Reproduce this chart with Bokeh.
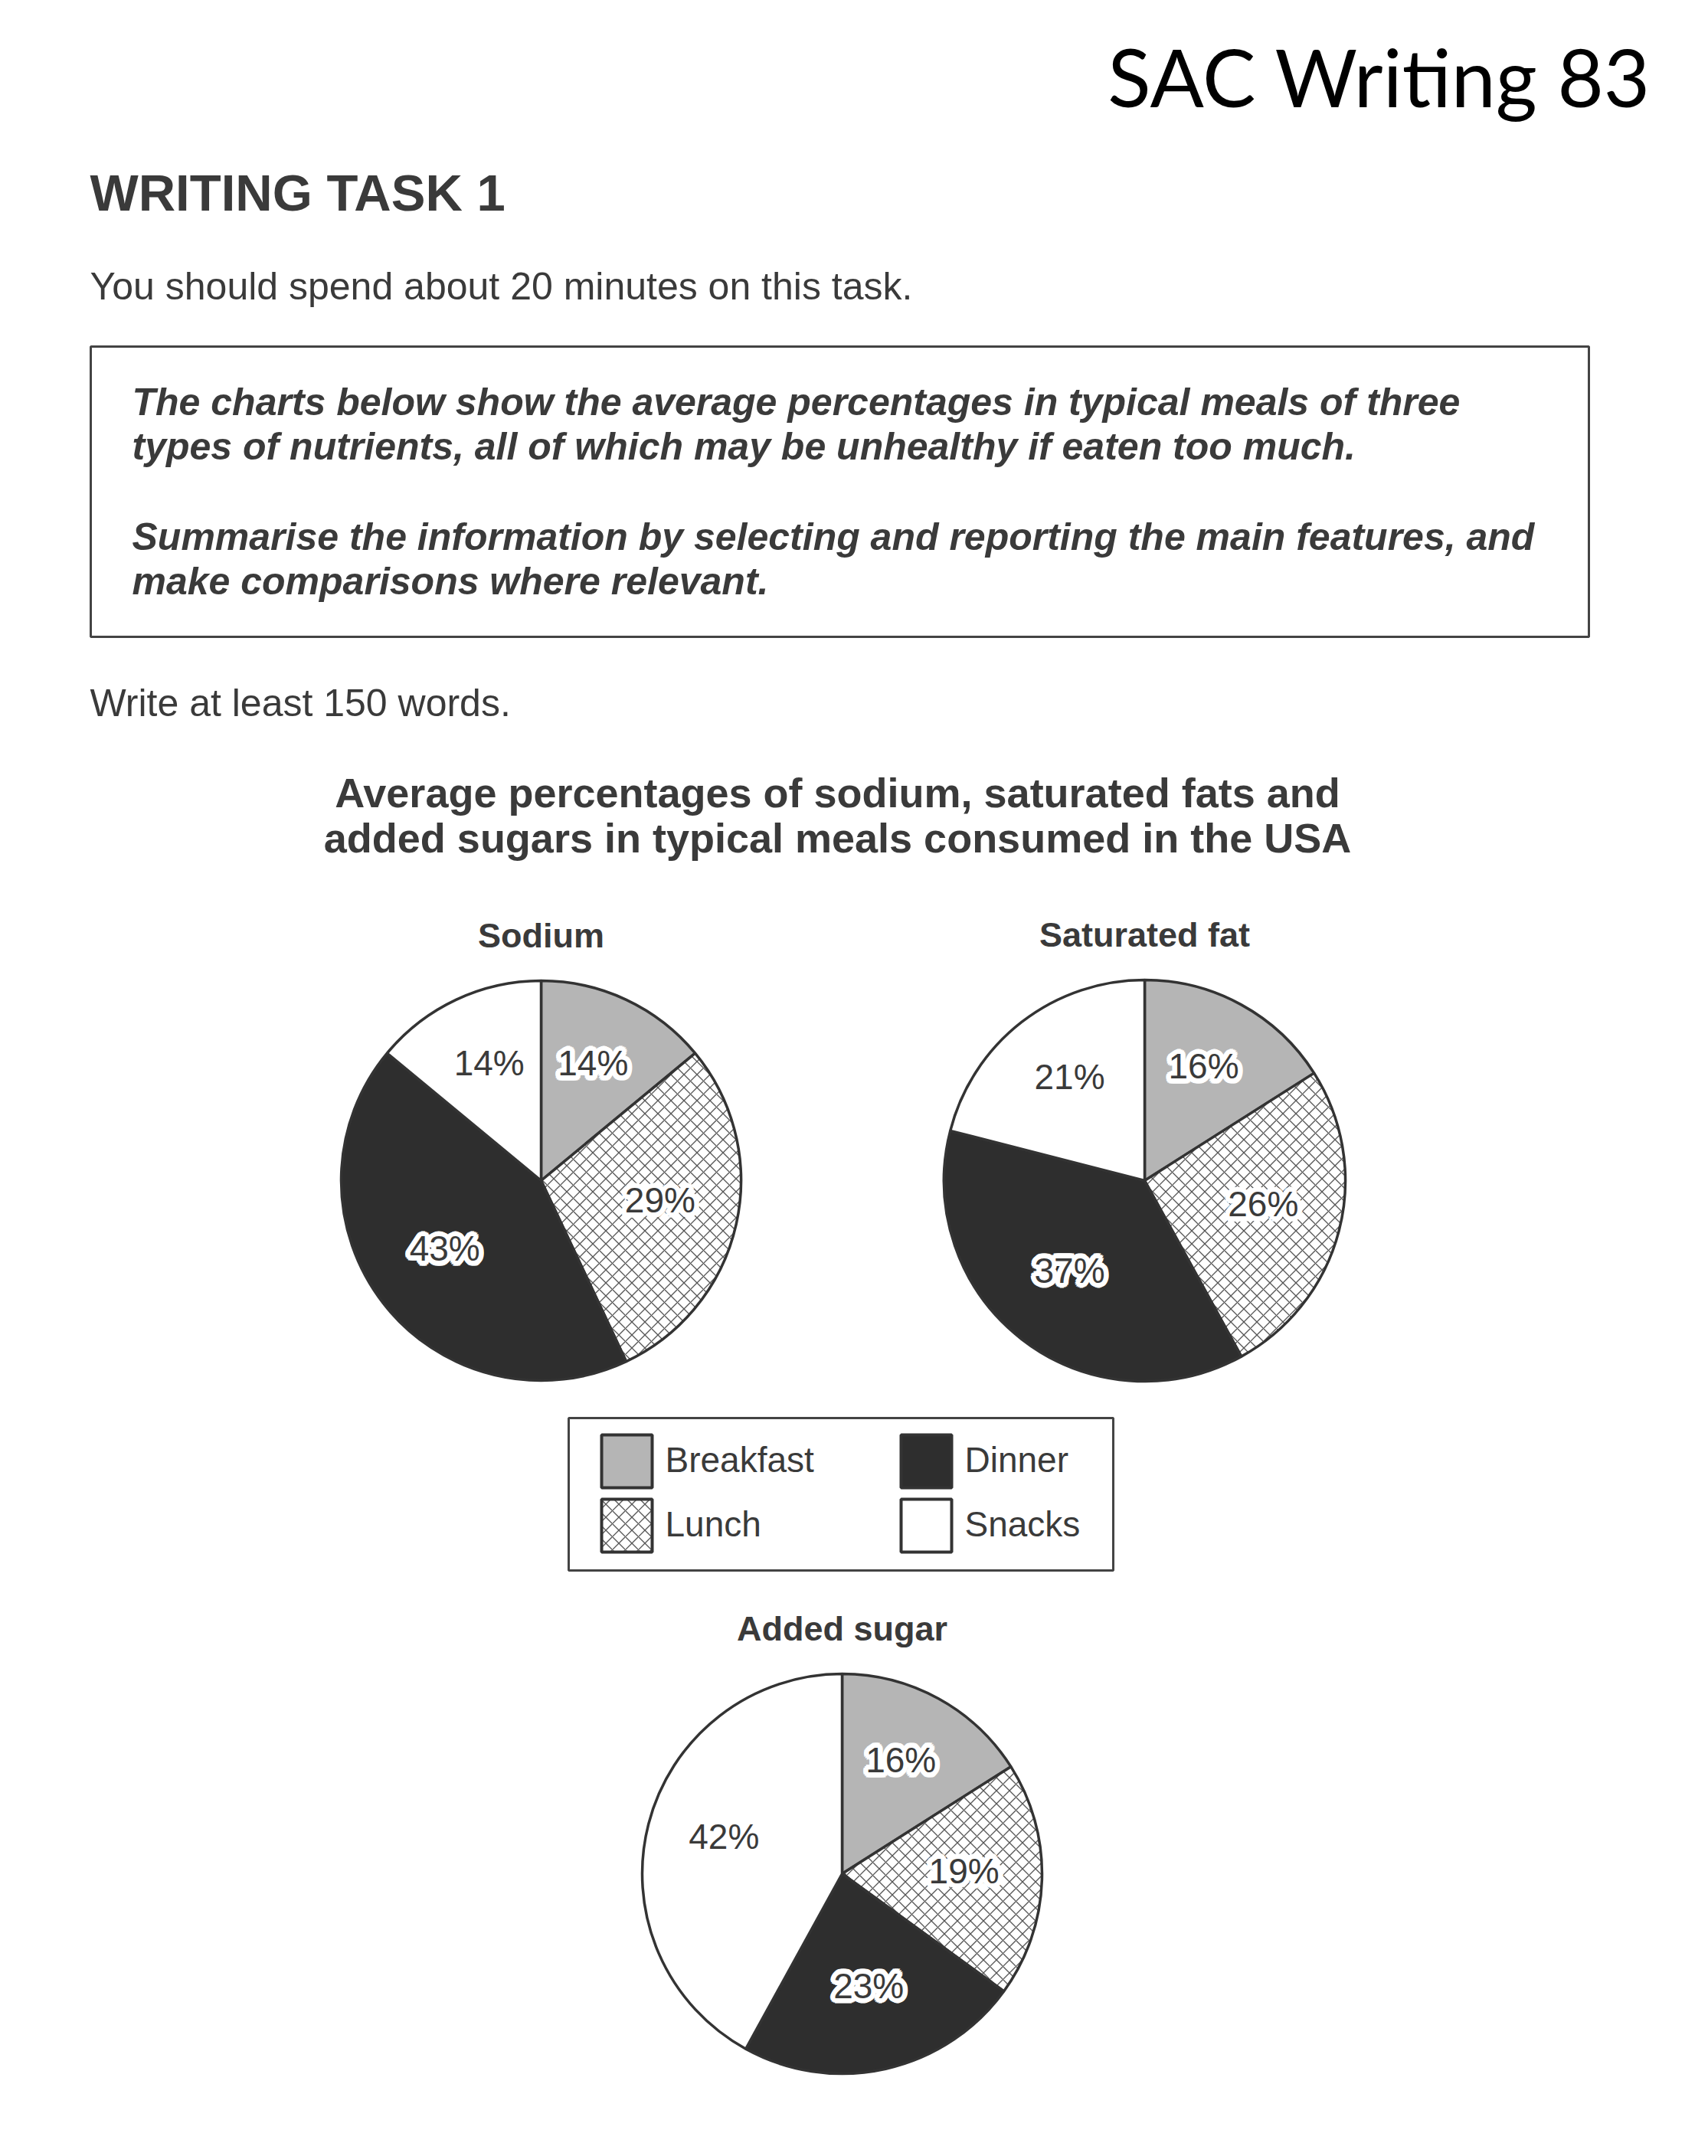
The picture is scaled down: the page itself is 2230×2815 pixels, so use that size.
import numpy as np
from bokeh.plotting import figure
from bokeh.models import Range1d, ColumnDataSource
from bokeh.core.properties import value
from bokeh.embed import file_html
from bokeh.resources import INLINE

W, H = 2230, 2815

# ---------------- data ----------------
meals = ["Breakfast", "Lunch", "Dinner", "Snacks"]
sodium = [14, 29, 43, 14]
saturated_fat = [16, 26, 37, 21]
added_sugar = [16, 19, 23, 42]
nutrient_names = ["Sodium", "Saturated fat", "Added sugar"]

header_tag = "SAC Writing 83"
task_title = "WRITING TASK 1"
instruction = "You should spend about 20 minutes on this task."
box_lines = [
    "The charts below show the average percentages in typical meals of three",
    "types of nutrients, all of which may be unhealthy if eaten too much.",
    "Summarise the information by selecting and reporting the main features, and",
    "make comparisons where relevant.",
]
word_note = "Write at least 150 words."
chart_title = [
    "Average percentages of sodium, saturated fats and",
    "added sugars in typical meals consumed in the USA",
]

# ---------------- styles ----------------
fills = ["#b5b5b5", "#ffffff", "#2e2e2e", "#ffffff"]
hatches = [" ", "x", " ", " "]
halo = [True, True, True, False]
INK = "#3a3a3a"
EDGE = "#333333"
FONT = "Liberation Sans"
HATCH = dict(hatch_color="#555555", hatch_scale=17, hatch_weight=1.3)

p = figure(width=W, height=H, x_range=Range1d(0, W), y_range=Range1d(0, H),
           output_backend="svg", toolbar_location=None, min_border=0)
p.axis.visible = False
p.grid.visible = False
p.outline_line_color = None
p.background_fill_color = "white"
p.border_fill_color = "white"


def Y(y):
    return H - y


def txt(x, y, s, size, style="normal", align="left", color=INK, font=FONT):
    # y is the intended baseline (page pixels, from top)
    p.text(x=[x], y=[Y(y) + 0.36 * size], text=[s], text_font=value(font),
           text_font_size=f"{size}px", text_font_style=style,
           text_align=align, text_baseline="alphabetic", text_color=color)


# ---------------- header texts ----------------
txt(2155, 136, header_tag, 104, align="right", color="#000000", font="Lato")
txt(117, 275, task_title, 67, style="bold")
txt(117, 391, instruction, 50)

# task box
p.quad(left=[118], right=[2074], top=[Y(452)], bottom=[Y(831)],
       fill_color=None, line_color="#444444", line_width=3)
for s, yb in zip(box_lines, [542, 600, 718, 776]):
    txt(172, yb, s, 50, style="bold italic")

txt(117, 935, word_note, 50)

# chart title
for s, yb in zip(chart_title, [1054, 1113]):
    txt(1093, yb, s, 54, style="bold", align="center")

# ---------------- pies ----------------
pies = [
    (nutrient_names[0], sodium, 706, 1541, 261),
    (nutrient_names[1], saturated_fat, 1494, 1541, 262),
    (nutrient_names[2], added_sugar, 1099, 2446, 261),
]

ang = np.linspace(0, 2 * np.pi, 16, endpoint=False)
hx = list(6 * np.cos(ang))
hy = list(6 * np.sin(ang))

for name, vals, cx, cy, r in pies:
    v = np.array(vals, dtype=float)
    frac = v / v.sum()
    cum = np.concatenate([[0.0], np.cumsum(frac)])
    start = np.pi / 2 - 2 * np.pi * cum[:-1]
    end = np.pi / 2 - 2 * np.pi * cum[1:]
    src = ColumnDataSource(dict(x=[cx] * 4, y=[Y(cy)] * 4, start=start, end=end,
                                fill=fills, hatch=hatches))
    p.wedge(x="x", y="y", radius=r, start_angle="start", end_angle="end",
            direction="clock", source=src, fill_color="fill",
            hatch_pattern="hatch", line_color=EDGE, line_width=3.5, **HATCH)
    # title
    txt(cx, cy - r - 43, name, 45, style="bold", align="center")
    # labels
    mid = (cum[:-1] + cum[1:]) / 2
    rl = 0.61 * r
    for i in range(4):
        lx = cx + rl * np.sin(2 * np.pi * mid[i])
        ly = Y(cy) + rl * np.cos(2 * np.pi * mid[i]) + 9
        lab = f"{vals[i]}%"
        if halo[i]:
            hsrc = ColumnDataSource(dict(x=[lx] * len(hx), y=[ly] * len(hx),
                                         t=[lab] * len(hx), dx=hx, dy=hy))
            p.text(x="x", y="y", text="t", x_offset="dx", y_offset="dy",
                   source=hsrc, text_font=value(FONT), text_font_size="46px",
                   text_align="center", text_baseline="middle",
                   text_color="white", text_outline_color="white")
        p.text(x=[lx], y=[ly], text=[lab], text_font=value(FONT),
               text_font_size="46px", text_align="center",
               text_baseline="middle", text_color=INK)

# ---------------- legend ----------------
p.quad(left=[742], right=[1453], top=[Y(1851)], bottom=[Y(2050)],
       fill_color=None, line_color="#444444", line_width=3)
col_x = [785, 1176]
row_y = [1873, 1957]
sw_w, sw_h = 66, 69
lefts, rights, tops, bottoms, tx, ty = [], [], [], [], [], []
for i, m in enumerate(meals):
    c, rr = i // 2, i % 2
    lefts.append(col_x[c]); rights.append(col_x[c] + sw_w)
    tops.append(Y(row_y[rr])); bottoms.append(Y(row_y[rr] + sw_h))
    tx.append(col_x[c] + sw_w + 17); ty.append(Y(row_y[rr] + sw_h / 2 - 2))
lsrc = ColumnDataSource(dict(l=lefts, r=rights, t=tops, b=bottoms,
                             fill=fills, hatch=hatches, tx=tx, ty=ty, name=meals))
p.quad(left="l", right="r", top="t", bottom="b", source=lsrc, fill_color="fill",
       hatch_pattern="hatch", line_color=EDGE, line_width=4, **HATCH)
p.text(x="tx", y="ty", text="name", source=lsrc, text_font=value(FONT),
       text_font_size="46px", text_baseline="middle", text_color=INK)

open("out.html", "w").write(file_html(p, INLINE))
